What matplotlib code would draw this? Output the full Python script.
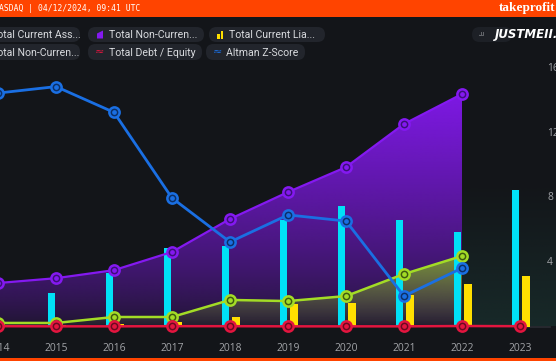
import numpy as np
import matplotlib
matplotlib.use('Agg')
import matplotlib.pyplot as plt
from matplotlib.patches import FancyBboxPatch, Polygon, Rectangle

# values
years = np.arange(2014, 2024)
current_assets = [1.8, 2.08, 3.32, 4.85, 5.0, 6.6, 7.5, 6.6, 5.9, 8.5]
current_liab = [0.05, 0.08, 0.15, 0.28, 0.6, 1.4, 1.45, 1.95, 2.65, 3.15]
debt_equity = [0.02, 0.01, 0.01, 0.02, 0.02, 0.01, 0.01, 0.01, 0.03, 0.02]

area_years = years[:9]
noncurrent_assets = [2.7, 3.0, 3.5, 4.63, 6.68, 8.35, 9.9, 12.58, 14.44]
noncurrent_liab = [0.22, 0.22, 0.59, 0.59, 1.65, 1.58, 1.89, 3.26, 4.38]
altman = [14.5, 14.9, 13.3, 7.98, 5.25, 6.93, 6.55, 1.89, 3.63]

right_ticks = [4, 8, 12, 16]

BG = '#131519'
CYAN = '#00e1f7'
YELLOW = '#ffdf00'
PURPLE = '#8419f0'
GREEN = '#a3dc26'
RED = '#e3153f'
BLUE = '#1a6fe3'
ORANGE = '#ff4400'


def grad_fill(ax, x, y, color, a_top, a_bot, power, zorder):
    """fill from y down to 0 with a vertical alpha gradient"""
    verts = [(x[0], 0)] + list(zip(x, y)) + [(x[-1], 0)]
    patch = Polygon(verts, closed=True, fc='none', ec='none')
    ax.add_patch(patch)
    ymax = max(y)
    t = np.linspace(0, 1, 256) ** power
    rgb = matplotlib.colors.to_rgb(color)
    img = np.zeros((256, 1, 4))
    img[:, 0, :3] = rgb
    img[:, 0, 3] = a_bot + (a_top - a_bot) * t
    im = ax.imshow(img, extent=[x[0], x[-1], 0, ymax], origin='lower',
                   aspect='auto', zorder=zorder, interpolation='bilinear')
    im.set_clip_path(patch)


def ring_line(ax, x, y, color, dark, lw, zorder):
    ax.plot(x, y, color=color, lw=lw, zorder=zorder, solid_capstyle='round',
            marker='o', markersize=7.4, mfc=dark, mec=color, mew=1.8)
    ax.plot(x, y, ls='none', marker='o', markersize=2.4, color=color,
            zorder=zorder + 0.1)


fig = plt.figure(figsize=(5.56, 3.61), dpi=100)
fig.patch.set_facecolor(BG)
ax = fig.add_axes([0, 0, 1, 1])
ax.set_facecolor(BG)

# faint glow on the right
glow = np.zeros((256, 1, 4))
glow[:, 0, :3] = matplotlib.colors.to_rgb('#1c3a36')
glow[:, 0, 3] = np.linspace(0.55, 0.0, 256)
ax.imshow(glow, extent=[2022.0, 2023.7, 0, 9], origin='lower', aspect='auto',
          zorder=0.5)

# areas
grad_fill(ax, area_years, noncurrent_assets, PURPLE, 0.95, 0.1, 0.75, 1)
grad_fill(ax, area_years, noncurrent_liab, '#8cc41c', 0.72, 0.05, 1.0, 1.5)

# bars
bw = 0.13
ax.bar(years - 0.08, current_assets, width=bw, color=CYAN, zorder=2)
ax.bar(years + 0.1, current_liab, width=bw, color=YELLOW, zorder=2)

# baseline after the last point
ax.plot([2023, 2023.52], [0, 0], color='#2a2d33', lw=1.2, zorder=1)

# lines
ring_line(ax, area_years, noncurrent_assets, PURPLE, '#3c0f78', 1.6, 3)
ring_line(ax, area_years, noncurrent_liab, GREEN, '#3f5a10', 1.8, 4)
ring_line(ax, years, debt_equity, RED, '#6a0a20', 1.8, 5)
ring_line(ax, area_years, altman, BLUE, '#0c2f66', 2.0, 6)

# axis labels drawn inside the plot
for yr in years:
    ax.text(yr, -1.34, str(yr), ha='center', va='center', color='#a2a4a8',
            fontsize=7.4, family='Open Sans', zorder=7)
for v in right_ticks:
    ax.text(547 / 556, v, str(v), transform=ax.get_yaxis_transform(),
            ha='left', va='center', color='#a2a4a8', fontsize=7.4,
            family='Open Sans', zorder=7)

ax.set_xlim(2014 + 2 / 58, 2014 + 558 / 58)
ax.set_ylim(-34.5 / 16.1, 326.5 / 16.1)
ax.axis('off')

# overlay in pixel coordinates for the header and legend
ov = fig.add_axes([0, 0, 1, 1])
ov.set_xlim(0, 556)
ov.set_ylim(361, 0)
ov.axis('off')
ov.patch.set_alpha(0)

ov.add_patch(Rectangle((0, 0), 556, 17, fc=ORANGE, ec='none'))
ov.add_patch(Rectangle((0, 358), 556, 3, fc=ORANGE, ec='none'))
ov.text(-1, 8.5, 'ASDAQ | 04/12/2024, 09:41 UTC', ha='left', va='center',
        color='white', fontsize=5.8, family='DejaVu Sans Mono')
ov.text(555, 8.5, 'takeprofit', ha='right', va='center', color='white',
        fontsize=9.5, family='Liberation Serif', weight='bold')

pills = [
    (-10, 80, 27, 42, 'Total Current Ass...', -9, None),
    (88, 204, 27, 42, 'Total Non-Curren...', 109, 'area'),
    (209, 325, 27, 42, 'Total Current Lia...', 229, 'bars'),
    (-10, 80, 44, 60, 'Total Non-Curren...', -9, None),
    (88, 202, 44, 60, 'Total Debt / Equity', 109, 'red'),
    (206, 305, 44, 60, 'Altman Z-Score', 226, 'blue'),
]
for x0, x1, y0, y1, label, tx, icon in pills:
    ov.add_patch(FancyBboxPatch((x0, y0), x1 - x0, y1 - y0,
                                boxstyle='round,pad=0,rounding_size=7.5',
                                fc='#22252c', ec='none'))
    yc = (y0 + y1) / 2
    ov.text(tx, yc + 0.5, label, ha='left', va='center', color='#d8dade',
            fontsize=7.6, family='Roboto')
    ix = tx - 9
    if icon == 'area':
        ov.add_patch(Polygon([(ix - 3, yc + 4), (ix - 3, yc - 1), (ix + 3, yc - 4),
                              (ix + 3, yc + 4)], fc=PURPLE, ec='none'))
    elif icon == 'bars':
        ov.add_patch(Rectangle((ix - 3, yc - 1), 2.5, 5, fc=YELLOW, ec='none'))
        ov.add_patch(Rectangle((ix + 0.5, yc - 4), 2.5, 8, fc=YELLOW, ec='none'))
    elif icon == 'red':
        ov.text(ix, yc, '≈', ha='center', va='center', color=RED, fontsize=8)
    elif icon == 'blue':
        ov.text(ix, yc, '≈', ha='center', va='center', color=BLUE, fontsize=8)

ov.add_patch(FancyBboxPatch((472, 27), 40, 15,
                            boxstyle='round,pad=0,rounding_size=7.5',
                            fc='#1d2026', ec='none'))
ov.text(482, 34.5, 'JU', ha='center', va='center', color='#b0b2b6',
        fontsize=3.8, family='Roboto')
ov.text(495, 34.5, 'JUSTMEII.HO', ha='left', va='center', color='white',
        fontsize=8.5, family='DejaVu Sans', weight='bold', style='italic')

fig.savefig('out.png', dpi=100, facecolor=BG)
